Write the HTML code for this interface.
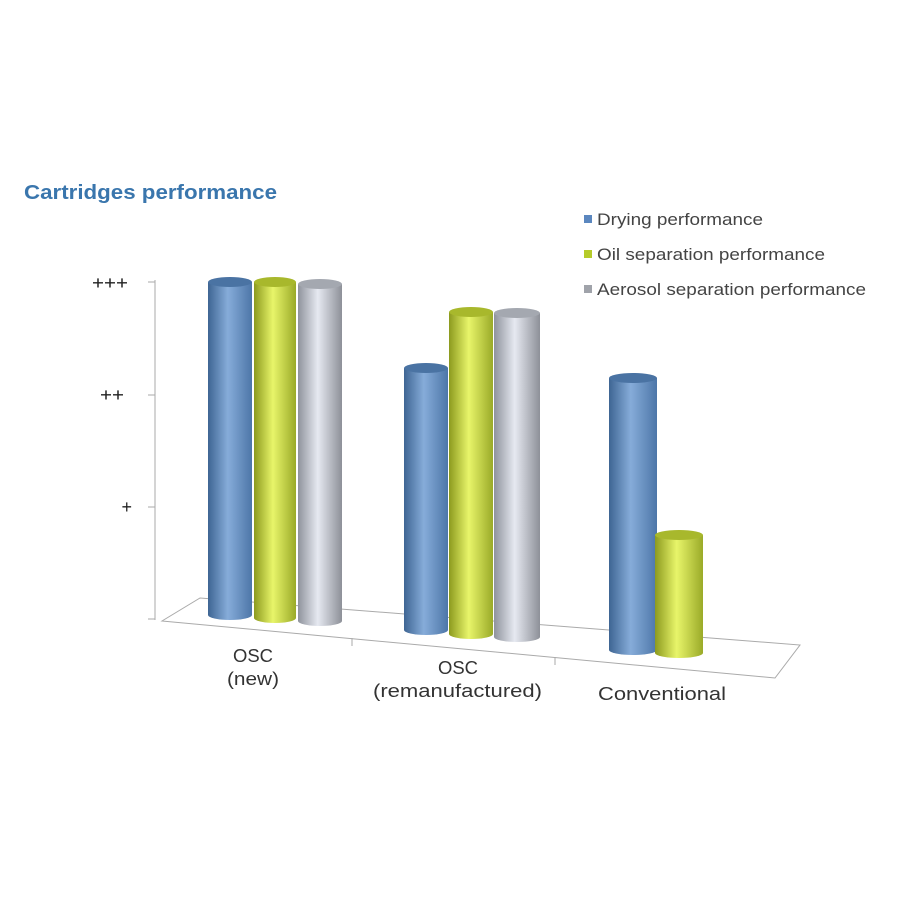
<!DOCTYPE html>
<html><head><style>body{margin:0;background:#fff}svg{display:block}text{font-family:"Liberation Sans",sans-serif}</style></head><body>
<svg width="900" height="900" viewBox="0 0 900 900">
<defs>
<linearGradient id="b" x1="0" x2="1"><stop offset="0" stop-color="#3e6593"/><stop offset=".45" stop-color="#86acd9"/><stop offset="1" stop-color="#4d76a8"/></linearGradient>
<linearGradient id="g" x1="0" x2="1"><stop offset="0" stop-color="#8c9a1e"/><stop offset=".45" stop-color="#e8f56a"/><stop offset="1" stop-color="#9aaa28"/></linearGradient>
<linearGradient id="s" x1="0" x2="1"><stop offset="0" stop-color="#8f939c"/><stop offset=".45" stop-color="#e6e9f1"/><stop offset="1" stop-color="#8d9098"/></linearGradient>
</defs>
<text x="24" y="199" font-size="20" font-weight="bold" fill="#3a76ad" textLength="253" lengthAdjust="spacingAndGlyphs">Cartridges performance</text>
<rect x="584" y="215" width="8" height="8" fill="#5b87bf"/><text x="597" y="225" font-size="17" fill="#444" textLength="166" lengthAdjust="spacingAndGlyphs">Drying performance</text>
<rect x="584" y="250" width="8" height="8" fill="#b5cb2a"/><text x="597" y="260" font-size="17" fill="#444" textLength="228" lengthAdjust="spacingAndGlyphs">Oil separation performance</text>
<rect x="584" y="285" width="8" height="8" fill="#a0a3aa"/><text x="597" y="295" font-size="17" fill="#444" textLength="269" lengthAdjust="spacingAndGlyphs">Aerosol separation performance</text>
<g stroke="#aaa" stroke-width="1" fill="none">
<line x1="155" y1="280" x2="155" y2="620"/>
<line x1="148" y1="282" x2="155" y2="282"/><line x1="148" y1="395" x2="155" y2="395"/><line x1="148" y1="507" x2="155" y2="507"/><line x1="148" y1="619" x2="155" y2="619"/>
<polygon points="162,621 775,678 800,645 200,598"/>
<line x1="352" y1="638" x2="352" y2="646"/><line x1="555" y1="657" x2="555" y2="665"/>
</g>
<g font-size="18" fill="#222" text-anchor="end">
<text x="128" y="289" textLength="36" lengthAdjust="spacingAndGlyphs">+++</text><text x="124" y="401" textLength="24" lengthAdjust="spacingAndGlyphs">++</text><text x="132" y="513">+</text>
</g>
<g font-size="18" fill="#333">
<text x="233" y="662" textLength="40" lengthAdjust="spacingAndGlyphs">OSC</text><text x="227" y="685" textLength="52" lengthAdjust="spacingAndGlyphs">(new)</text>
<text x="438" y="674" textLength="40" lengthAdjust="spacingAndGlyphs">OSC</text><text x="373" y="697" textLength="169" lengthAdjust="spacingAndGlyphs">(remanufactured)</text>
<text x="598" y="700" textLength="128" lengthAdjust="spacingAndGlyphs">Conventional</text>
</g>
<g>
<g fill="url(#b)"><rect x="208" y="282" width="44" height="333"/><ellipse cx="230" cy="615" rx="22" ry="5"/><ellipse cx="230" cy="282" rx="22" ry="5" fill="#4a73a3"/></g>
<g fill="url(#g)"><rect x="254" y="282" width="42" height="336"/><ellipse cx="275" cy="618" rx="21" ry="5"/><ellipse cx="275" cy="282" rx="21" ry="5" fill="#a8b82c"/></g>
<g fill="url(#s)"><rect x="298" y="284" width="44" height="337"/><ellipse cx="320" cy="621" rx="22" ry="5"/><ellipse cx="320" cy="284" rx="22" ry="5" fill="#a4a8b0"/></g>
<g fill="url(#b)"><rect x="404" y="368" width="44" height="262"/><ellipse cx="426" cy="630" rx="22" ry="5"/><ellipse cx="426" cy="368" rx="22" ry="5" fill="#4a73a3"/></g>
<g fill="url(#g)"><rect x="449" y="312" width="44" height="322"/><ellipse cx="471" cy="634" rx="22" ry="5"/><ellipse cx="471" cy="312" rx="22" ry="5" fill="#a8b82c"/></g>
<g fill="url(#s)"><rect x="494" y="313" width="46" height="324"/><ellipse cx="517" cy="637" rx="23" ry="5"/><ellipse cx="517" cy="313" rx="23" ry="5" fill="#a4a8b0"/></g>
<g fill="url(#b)"><rect x="609" y="378" width="48" height="272"/><ellipse cx="633" cy="650" rx="24" ry="5"/><ellipse cx="633" cy="378" rx="24" ry="5" fill="#4a73a3"/></g>
<g fill="url(#g)"><rect x="655" y="535" width="48" height="118"/><ellipse cx="679" cy="653" rx="24" ry="5"/><ellipse cx="679" cy="535" rx="24" ry="5" fill="#a8b82c"/></g>
</g>
</svg>
</body></html>
